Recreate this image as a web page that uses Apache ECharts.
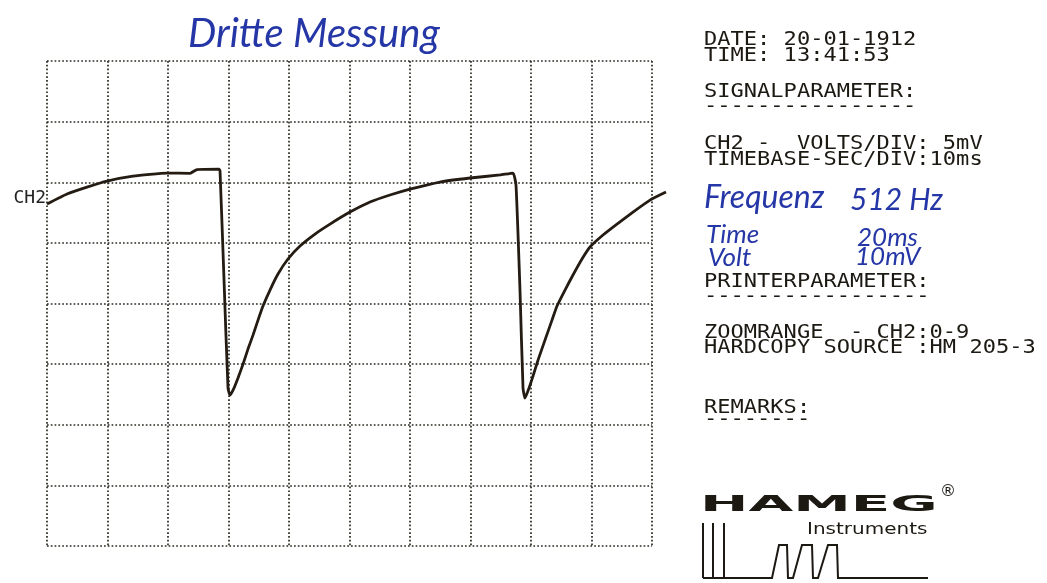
<!DOCTYPE html>
<html>
<head>
<meta charset="utf-8">
<script src="https://cdn.jsdelivr.net/npm/echarts@6/dist/echarts.min.js"></script>
<style>
  html, body { margin: 0; padding: 0; background: #fff; }
  #chart { width: 1047px; height: 583px; }
</style>
</head>
<body>
<div id="chart"></div>
<script>
// CH2 trace: time in ms (10 ms/div), level in mV (5 mV/div)
const timeMs = [0, 3.31, 6.61, 9.92, 14.21, 19.83, 23.64, 24.79, 28.43,
  28.6, 29.26, 29.92, 30.25, 30.91, 31.57, 32.4, 33.22, 34.05, 34.88, 35.7,
  36.86, 38.18, 39.83, 41.82, 44.3, 46.78, 50.08, 53.39, 56.69, 60.0,
  64.96, 69.92, 74.88, 77.02,
  77.52, 78.18, 78.68, 79.01, 79.67, 80.33, 81.16, 82.31, 83.47, 84.3,
  85.62, 86.94, 88.43, 89.75, 91.9, 94.21, 96.86, 99.67, 102.31];
const ch2mV = [8.2, 9.03, 9.6, 10.1, 10.51, 10.76, 10.74, 11.05, 11.09,
  10.93, 1.93, -6.98, -7.56, -6.98, -6.15, -5.0, -3.76, -2.61, -1.37, -0.21,
  1.11, 2.43, 3.67, 4.74, 5.73, 6.55, 7.54, 8.37, 8.95, 9.44,
  10.02, 10.35, 10.6, 10.76,
  9.77, 1.11, -6.98, -7.8, -6.98, -5.99, -4.67, -3.02, -1.37, -0.21,
  1.11, 2.35, 3.67, 4.66, 5.65, 6.55, 7.54, 8.53, 9.19];

// graticule: 10 x 8 divisions
const timeMin = 0, timeMax = 100, timeStep = 10;
const voltMin = -20, voltMax = 20, voltStep = 5;
const ch2Ref = 8.7;   // level of the "CH2" marker

const dotted = { color: '#2a2a22', width: 1.7, type: [1.7, 2.1] };
const matrix = '19px "DejaVu Sans Mono"';
const ink = '#1c1812';
const pen = '#2536a6';

function line(text, y) {
  return { type: 'text', x: 704, y: y, scaleX: 1.16,
    style: { text: text, font: matrix, fill: ink, verticalAlign: 'middle' } };
}
function hand(text, x, y, size) {
  return { type: 'text', x: x, y: y,
    style: { text: text, font: 'italic ' + size + 'px Lato', fill: pen, verticalAlign: 'middle' } };
}
function stroke(points) {
  return { type: 'polyline', shape: { points: points },
    style: { stroke: ink, lineWidth: 2, fill: null } };
}
const hidden = { axisLine: { show: false }, axisTick: { show: false }, axisLabel: { show: false } };

const chart = echarts.init(document.getElementById('chart'));
chart.setOption({
  animation: false,
  backgroundColor: '#fff',
  grid: [
    { left: 47, top: 61, width: 605, height: 485 },
    // same scale, one division wider so the trace may run past the graticule
    { left: 47, top: 61, width: 665.5, height: 485 }
  ],
  xAxis: [
    Object.assign({ type: 'value', gridIndex: 0, min: timeMin, max: timeMax, interval: timeStep,
      splitLine: { show: true, lineStyle: dotted } }, hidden),
    Object.assign({ type: 'value', gridIndex: 1, min: timeMin, max: timeMax + timeStep, interval: timeStep,
      splitLine: { show: false } }, hidden)
  ],
  yAxis: [
    Object.assign({ type: 'value', gridIndex: 0, min: voltMin, max: voltMax, interval: voltStep,
      splitLine: { show: true, lineStyle: dotted } }, hidden),
    Object.assign({ type: 'value', gridIndex: 1, min: voltMin, max: voltMax, interval: voltStep,
      splitLine: { show: false } }, hidden)
  ],
  series: [{
    type: 'line',
    xAxisIndex: 1, yAxisIndex: 1,
    data: timeMs.map((t, i) => [t, ch2mV[i]]),
    showSymbol: false,
    smooth: 0.15,
    lineStyle: { color: '#241b13', width: 2.8 },
    markLine: {
      silent: true, symbol: 'none',
      lineStyle: { color: 'rgba(0,0,0,0)' },
      label: { show: true, position: 'start', formatter: 'CH2', distance: 1,
        color: '#222', fontFamily: 'DejaVu Sans Mono', fontSize: 18 },
      data: [{ yAxis: ch2Ref }]
    }
  }],
  graphic: [
    { type: 'text', x: 188, y: 34,
      style: { text: 'Dritte Messung', font: 'italic 40px Lato', fill: pen, verticalAlign: 'middle' } },
    line('DATE: 20-01-1912', 40),
    line('TIME: 13:41:53', 56.5),
    line('SIGNALPARAMETER:', 92),
    line('----------------', 107),
    line('CH2 -  VOLTS/DIV: 5mV', 144),
    line('TIMEBASE-SEC/DIV:10ms', 160),
    hand('Frequenz', 704, 198, 32),
    hand('512 Hz', 850, 200, 30),
    hand('Time', 706, 235, 26),
    hand('20ms', 857, 238, 26),
    hand('Volt', 708, 258, 26),
    hand('10mV', 855, 257, 26),
    line('PRINTERPARAMETER:', 282),
    line('-----------------', 297),
    line('ZOOMRANGE  - CH2:0-9', 333),
    line('HARDCOPY SOURCE :HM 205-3', 348),
    line('REMARKS:', 408),
    line('--------', 420),
    { type: 'text', x: 700, y: 505, scaleX: 2.63,
      style: { text: 'HAMEG', font: 'bold 22px "DejaVu Sans"', fill: ink, verticalAlign: 'middle' } },
    { type: 'text', x: 940, y: 492,
      style: { text: '®', font: '16px "DejaVu Sans"', fill: ink, verticalAlign: 'middle' } },
    { type: 'text', x: 807, y: 530, scaleX: 1.25,
      style: { text: 'Instruments', font: '16px "DejaVu Sans"', fill: ink, verticalAlign: 'middle' } },
    stroke([[703, 523], [703, 578]]),
    stroke([[713, 523], [713, 578]]),
    stroke([[724, 523], [724, 578]]),
    stroke([[703, 578], [772, 578], [779, 545], [787, 545], [788, 578],
      [793, 578], [802, 545], [812, 545], [813, 578],
      [818, 578], [828, 545], [837, 545], [838, 578], [928, 578]])
  ]
});
window.addEventListener('resize', () => chart.resize());
</script>
</body>
</html>
